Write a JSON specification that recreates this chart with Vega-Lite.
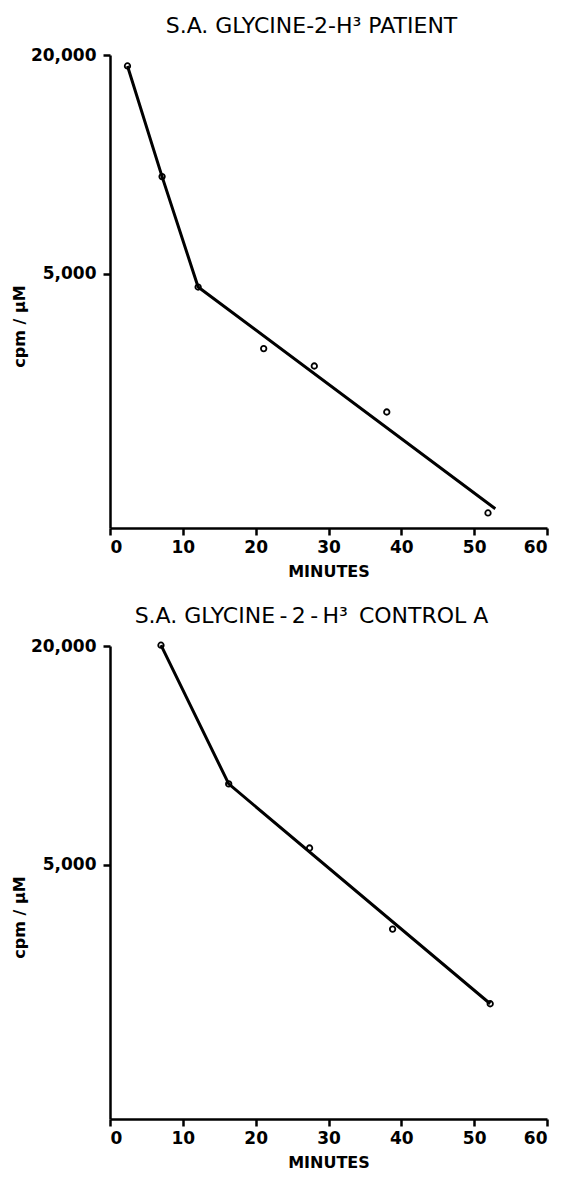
{
  "$schema": "https://vega.github.io/schema/vega-lite/v6.json",
  "background": "white",
  "padding": {"left": 11, "top": 15, "right": 9, "bottom": 5},
  "config": {
    "view": {"stroke": null},
    "font": "DejaVu Sans",
    "axis": {
      "domainColor": "black", "domainWidth": 2.5, "tickColor": "black", "tickWidth": 2.5, "tickSize": 7,
      "labelColor": "black", "labelFont": "DejaVu Sans", "labelFontWeight": "bold", "labelFontSize": 17,
      "titleColor": "black", "titleFont": "DejaVu Sans", "titleFontWeight": "bold", "titleFontSize": 16,
      "grid": false
    },
    "title": {"font": "DejaVu Sans", "fontSize": 22, "fontWeight": "normal", "color": "black", "anchor": "middle", "dx": -17},
    "concat": {"spacing": 26}
  },
  "datasets": {
    "patient": [
      {"minutes": 2.4, "cpm": 18660, "kind": "observed"},
      {"minutes": 7.15, "cpm": 9260, "kind": "observed"},
      {"minutes": 12.1, "cpm": 4600, "kind": "observed"},
      {"minutes": 21.1, "cpm": 3115, "kind": "observed"},
      {"minutes": 28.05, "cpm": 2790, "kind": "observed"},
      {"minutes": 38.0, "cpm": 2085, "kind": "observed"},
      {"minutes": 51.9, "cpm": 1100, "kind": "observed"},
      {"minutes": 2.4, "cpm": 18660, "kind": "fit"},
      {"minutes": 7.15, "cpm": 9260, "kind": "fit"},
      {"minutes": 12.1, "cpm": 4600, "kind": "fit"},
      {"minutes": 52.9, "cpm": 1130, "kind": "fit"}
    ],
    "control": [
      {"minutes": 7.0, "cpm": 20100, "kind": "observed"},
      {"minutes": 16.3, "cpm": 8350, "kind": "observed"},
      {"minutes": 27.4, "cpm": 5565, "kind": "observed"},
      {"minutes": 38.8, "cpm": 3330, "kind": "observed"},
      {"minutes": 52.2, "cpm": 2075, "kind": "observed"},
      {"minutes": 7.0, "cpm": 20100, "kind": "fit"},
      {"minutes": 16.3, "cpm": 8350, "kind": "fit"},
      {"minutes": 52.2, "cpm": 2075, "kind": "fit"}
    ]
  },
  "vconcat": [
    {
      "width": 437, "height": 473,
      "title": {"text": "S.A. GLYCINE-2-H³ PATIENT", "offset": 8},
      "data": {"name": "patient"},
      "layer": [
        {
          "transform": [{"filter": "datum.kind === 'fit'"}],
          "mark": {"type": "line", "color": "black", "strokeWidth": 3},
          "encoding": {
            "x": {"field": "minutes", "type": "quantitative", "scale": {"domain": [0, 60], "nice": false},
                  "axis": {"values": [0, 10, 20, 30, 40, 50, 60], "title": "MINUTES", "titlePadding": 8, "labelPadding": 4}},
            "y": {"field": "cpm", "type": "quantitative", "scale": {"type": "log", "domain": [1000, 20000], "nice": false},
                  "axis": {"values": [5000, 20000], "format": ",d", "title": "cpm / μM", "titlePadding": 3, "labelPadding": 7, "titleY": 271}}
          }
        },
        {
          "transform": [{"filter": "datum.kind === 'observed'"}],
          "mark": {"type": "point", "shape": "circle", "filled": false, "color": "black", "strokeWidth": 1.8, "size": 30, "opacity": 1},
          "encoding": {
            "x": {"field": "minutes", "type": "quantitative"},
            "y": {"field": "cpm", "type": "quantitative"}
          }
        }
      ]
    },
    {
      "width": 437, "height": 473,
      "title": {"text": "S.A. GLYCINE\u2009-\u20092\u2009-\u2009H³\u2002CONTROL A", "offset": 9},
      "data": {"name": "control"},
      "layer": [
        {
          "transform": [{"filter": "datum.kind === 'fit'"}],
          "mark": {"type": "line", "color": "black", "strokeWidth": 3},
          "encoding": {
            "x": {"field": "minutes", "type": "quantitative", "scale": {"domain": [0, 60], "nice": false},
                  "axis": {"values": [0, 10, 20, 30, 40, 50, 60], "title": "MINUTES", "titlePadding": 8, "labelPadding": 4}},
            "y": {"field": "cpm", "type": "quantitative", "scale": {"type": "log", "domain": [1000, 20000], "nice": false},
                  "axis": {"values": [5000, 20000], "format": ",d", "title": "cpm / μM", "titlePadding": 3, "labelPadding": 7, "titleY": 271}}
          }
        },
        {
          "transform": [{"filter": "datum.kind === 'observed'"}],
          "mark": {"type": "point", "shape": "circle", "filled": false, "color": "black", "strokeWidth": 1.8, "size": 30, "opacity": 1},
          "encoding": {
            "x": {"field": "minutes", "type": "quantitative"},
            "y": {"field": "cpm", "type": "quantitative"}
          }
        }
      ]
    }
  ]
}
